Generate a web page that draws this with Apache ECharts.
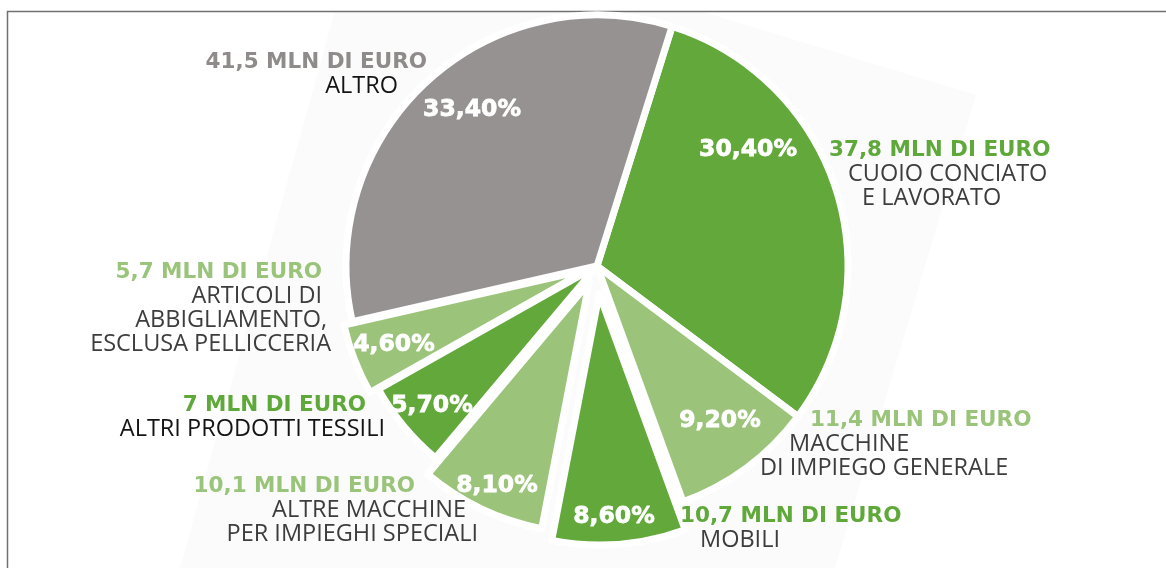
<!DOCTYPE html>
<html>
<head>
<meta charset="utf-8">
<script src="https://cdn.jsdelivr.net/npm/echarts@6/dist/echarts.min.js"></script>
<style>
  html, body { margin: 0; padding: 0; background: #ffffff; }
  #chart { width: 1166px; height: 568px; }
</style>
</head>
<body>
<div id="chart"></div>
<script>
// Export sectors, clockwise from the top-right slice
const sectors = [
  'CUOIO CONCIATO E LAVORATO',
  'MACCHINE DI IMPIEGO GENERALE',
  'MOBILI',
  'ALTRE MACCHINE PER IMPIEGHI SPECIALI',
  'ALTRI PRODOTTI TESSILI',
  'ARTICOLI DI ABBIGLIAMENTO, ESCLUSA PELLICCERIA',
  'ALTRO'
];
// Sector names as printed, one entry per text line
const nameLines = [
  ['CUOIO CONCIATO', 'E LAVORATO'],
  ['MACCHINE', 'DI IMPIEGO GENERALE'],
  ['MOBILI'],
  ['ALTRE MACCHINE', 'PER IMPIEGHI SPECIALI'],
  ['ALTRI PRODOTTI TESSILI'],
  ['ARTICOLI DI', 'ABBIGLIAMENTO,', 'ESCLUSA PELLICCERIA'],
  ['ALTRO']
];
// Value in millions of euro
const valuesMln = [37.8, 11.4, 10.7, 10.1, 7, 5.7, 41.5];
// Share of the total, in percent
const shares = [30.4, 9.2, 8.6, 8.1, 5.7, 4.6, 33.4];

// ---- styling ----
const GREEN = '#63a83a', LIGHT = '#9bc47a', GREY = '#979292';
const sliceColors = [GREEN, LIGHT, GREEN, LIGHT, GREEN, LIGHT, GREY];
const valueColors = ['#5fa83a', '#9ac47a', '#5fa83a', '#9ac47a', '#5fa83a', '#9ac47a', '#8f8b8a'];
const nameColors = ['#3d3d3d', '#3d3d3d', '#3d3d3d', '#3d3d3d', '#141414', '#3d3d3d', '#141414'];
// how far each slice is pulled out of the pie (px)
const pullOut = [0, 0, 28, 18, 0, 9, 0];

// percentage label centres
const pctPos = [[748, 150], [720, 421], [614, 517], [497, 486], [432, 406], [394, 345], [472, 110]];
// outer label blocks: anchor, alignment and per-line indent (value line first)
const blocks = [
  { x: 829, y: 138, align: 'left',  indent: [0, 19, 33] },
  { x: 760, y: 408, align: 'left',  indent: [50, 29, 0] },
  { x: 680, y: 504, align: 'left',  indent: [0, 20] },
  { x: 478, y: 474, align: 'right', indent: [63, 12, 0] },
  { x: 385, y: 393, align: 'right', indent: [19, 0] },
  { x: 331, y: 260, align: 'right', indent: [9, 9, 4, 0] },
  { x: 427, y: 50,  align: 'right', indent: [0, 29] }
];

const fmt = (v, d) => (d == null ? String(v) : v.toFixed(d)).replace('.', ',');
const CLEAR = 'rgba(0,0,0,0)';

// rich styles for the outer labels
const rich = {};
blocks.forEach((b, i) => {
  const pad = (n) => b.align === 'left' ? [0, 0, 0, n] : [0, n, 0, 0];
  rich['v' + i] = {
    fontFamily: 'DejaVu Sans', fontWeight: 'bold', fontSize: 21.5, lineHeight: 24,
    color: valueColors[i], align: b.align, padding: pad(b.indent[0])
  };
  nameLines[i].forEach((_, j) => {
    rich['n' + i + '_' + j] = {
      fontFamily: 'Open Sans', fontSize: 23.5, lineHeight: 24,
      color: nameColors[i], align: b.align, padding: pad(b.indent[j + 1])
    };
  });
});

const pieBase = {
  type: 'pie',
  center: [597, 266],
  radius: [0, 251],
  startAngle: 72.6,
  clockwise: true,
  avoidLabelOverlap: false,
  silent: true,
  animation: false,
  emphasis: { disabled: true },
  labelLine: { show: false }
};

// one pie layer per pull-out distance; slices of other layers stay transparent
const layers = Array.from(new Set(pullOut)).map((off) => Object.assign({}, pieBase, {
  name: 'fette-' + off,
  selectedMode: off > 0 ? 'multiple' : false,
  selectedOffset: off,
  itemStyle: { borderColor: '#ffffff', borderWidth: 7 },
  label: { show: false },
  data: shares.map((v, i) => pullOut[i] === off
    ? { value: v, name: sectors[i], selected: off > 0, itemStyle: { color: sliceColors[i] } }
    : { value: v, name: sectors[i], itemStyle: { color: CLEAR, borderWidth: 0 } })
}));

const pctLabels = Object.assign({}, pieBase, {
  name: 'quote',
  z: 4,
  itemStyle: { color: CLEAR, borderWidth: 0 },
  label: {
    show: true, position: 'inside',
    formatter: (p) => fmt(shares[p.dataIndex], 2) + '%',
    color: '#ffffff', fontFamily: 'DejaVu Sans', fontWeight: 'bold', fontSize: 23.5,
    textBorderColor: '#ffffff', textBorderWidth: 0.8
  },
  labelLayout: (p) => ({ x: pctPos[p.dataIndex][0], y: pctPos[p.dataIndex][1], align: 'center', verticalAlign: 'middle' }),
  data: shares.map((v, i) => ({ value: v, name: sectors[i] }))
});

const valueLabels = Object.assign({}, pieBase, {
  name: 'valori',
  z: 4,
  itemStyle: { color: CLEAR, borderWidth: 0 },
  label: {
    show: true, position: 'outside',
    formatter: (p) => {
      const i = p.dataIndex;
      const lines = ['{v' + i + '|' + fmt(valuesMln[i]) + ' MLN DI EURO}'];
      nameLines[i].forEach((t, j) => lines.push('{n' + i + '_' + j + '|' + t + '}'));
      return lines.join('\n');
    },
    rich: rich
  },
  labelLayout: (p) => {
    const b = blocks[p.dataIndex];
    return { x: b.x, y: b.y, align: b.align, verticalAlign: 'top' };
  },
  data: shares.map((v, i) => ({ value: v, name: sectors[i] }))
});

const chart = echarts.init(document.getElementById('chart'), null, { renderer: 'canvas' });
chart.setOption({
  backgroundColor: '#ffffff',
  animation: false,
  graphic: [
    { type: 'polygon', z: -10, silent: true,
      shape: { points: [[335, 11], [700, 11], [976, 95], [835, 568], [180, 568]] },
      style: { fill: '#fbfbfb' } },
    { type: 'rect', z: -5, silent: true,
      shape: { x: 7.5, y: 11.5, width: 1200, height: 600 },
      style: { fill: 'none', stroke: '#707070', lineWidth: 1.5 } }
  ],
  series: layers.concat([pctLabels, valueLabels])
});
</script>
</body>
</html>
